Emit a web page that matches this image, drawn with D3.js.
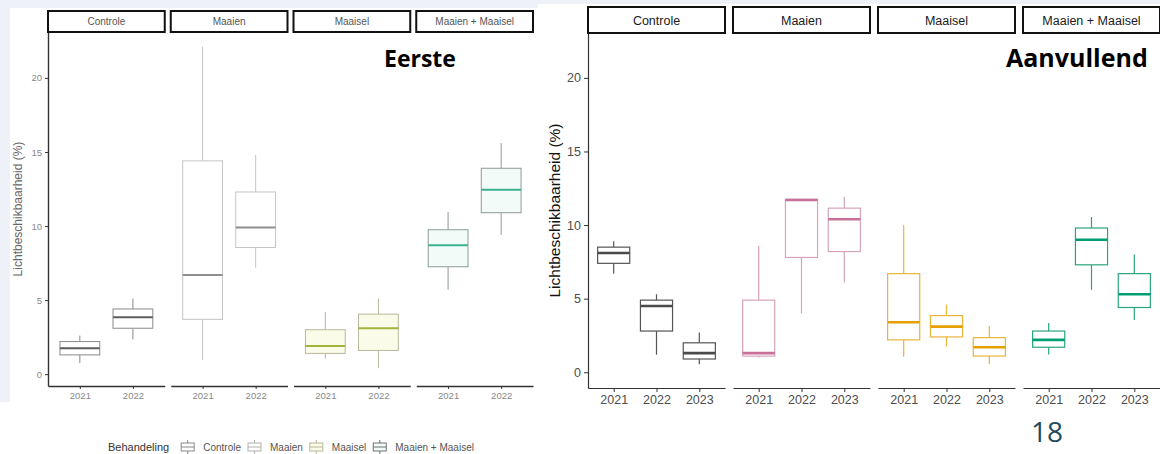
<!DOCTYPE html>
<html><head><meta charset="utf-8">
<script src="https://cdn.jsdelivr.net/npm/d3@7"></script>
<style>html,body{margin:0;padding:0;background:#eef2f8;}svg{display:block;}</style>
</head><body><svg id="c" width="1160" height="454"></svg>
<script>
// ---------- DATA ----------
const treatments = ["Controle", "Maaien", "Maaisel", "Maaien + Maaisel"];
const yearsFirst = ["2021", "2022"];
const yearsExtra = ["2021", "2022", "2023"];
const yTicks = [0, 5, 10, 15, 20];
const legendTitle = "Behandeling";
const labelFirst = "Eerste";
const labelExtra = "Aanvullend";
const pageNumber = "18";
const yTitle = "Lichtbeschikbaarheid (%)";

// "Eerste" chart: per treatment, per year [whisker low, Q1, median, Q3, whisker high]
const firstControle = [[0.75, 1.3, 1.75, 2.2, 2.6], [2.35, 3.1, 3.85, 4.4, 5.1]];
const firstMaaien = [[0.95, 3.7, 6.7, 14.4, 22.1], [7.2, 8.55, 9.9, 12.3, 14.8]];
const firstMaaisel = [[1.05, 1.4, 1.9, 3.0, 4.2], [0.4, 1.6, 3.1, 4.05, 5.1]];
const firstBoth = [[5.7, 7.25, 8.7, 9.75, 10.95], [9.4, 10.9, 12.45, 13.9, 15.6]];

// "Aanvullend" chart
const extraControle = [[6.7, 7.4, 8.1, 8.5, 8.9], [1.2, 2.8, 4.5, 4.9, 5.3], [0.55, 0.9, 1.3, 2.0, 2.7]];
const extraMaaien = [[1.0, 1.1, 1.3, 4.9, 8.6], [4.0, 7.8, 11.7, 11.75, 11.75], [6.1, 8.2, 10.4, 11.15, 11.9]];
const extraMaaisel = [[1.05, 2.2, 3.4, 6.7, 10.0], [1.75, 2.4, 3.1, 3.85, 4.6], [0.55, 1.1, 1.7, 2.35, 3.15]];
const extraBoth = [[1.2, 1.7, 2.2, 2.8, 3.35], [5.6, 7.3, 9.0, 9.8, 10.55], [3.55, 4.4, 5.3, 6.7, 8.0]];

// ---------- DRAW ----------
const svg = d3.select("#c");
const FONT = "'Liberation Sans', Arial, sans-serif";

// white cards
svg.append("rect").attr("x", 10).attr("y", 8).attr("width", 528).attr("height", 394).attr("fill", "#fff");
svg.append("rect").attr("x", 0).attr("y", 402).attr("width", 538).attr("height", 52).attr("fill", "#fff");
svg.append("rect").attr("x", 538).attr("y", 4).attr("width", 622).attr("height", 450).attr("fill", "#fff");

function drawChart(cfg) {
  const g = svg.append("g");
  const panels = d3.scaleBand().domain(treatments).range([cfg.x0, cfg.x1]).paddingInner(cfg.gap / ((cfg.x1 - cfg.x0 + cfg.gap) / treatments.length)).paddingOuter(0);
  const y = d3.scaleLinear().domain(cfg.yDomain).range([cfg.yBottom, cfg.yTop]);

  // y axis
  const ya = g.append("g").attr("transform", `translate(${cfg.x0},0)`)
    .call(d3.axisLeft(y).tickValues(yTicks).tickSize(cfg.tick).tickSizeOuter(0).tickPadding(cfg.tickPad));
  ya.select(".domain").attr("stroke", cfg.axisCol).attr("stroke-width", cfg.axisW);
  ya.selectAll(".tick line").attr("stroke", cfg.axisCol);
  ya.selectAll(".tick text").attr("fill", cfg.tickCol).style("font-family", FONT).style("font-size", cfg.tickFs + "px");

  // y title
  g.append("text").attr("transform", `translate(${cfg.yTitleX},${(cfg.yTop + cfg.yBottom) / 2}) rotate(-90)`)
    .attr("text-anchor", "middle").attr("fill", cfg.titleCol)
    .style("font-family", FONT).style("font-size", cfg.titleFs + "px").text(yTitle);

  treatments.forEach((t, ti) => {
    const px = panels(t), pw = panels.bandwidth();
    const xs = d3.scalePoint().domain(cfg.years).range([px, px + pw]).padding(0.6);
    const boxW = xs.step() * 0.75;
    // strip
    g.append("rect").attr("x", px).attr("y", cfg.stripTop).attr("width", pw).attr("height", cfg.stripH)
      .attr("fill", "#fff").attr("stroke", "#111").attr("stroke-width", cfg.stripW);
    g.append("text").attr("x", px + pw / 2).attr("y", cfg.stripTop + cfg.stripH / 2).attr("dy", "0.36em")
      .attr("text-anchor", "middle").attr("fill", cfg.stripCol)
      .style("font-family", FONT).style("font-size", cfg.stripFs + "px").text(t);
    // x axis
    const xa = g.append("g").attr("transform", `translate(0,${cfg.yBottom})`)
      .call(d3.axisBottom(xs).tickSize(cfg.tick).tickSizeOuter(0).tickPadding(cfg.tickPad));
    xa.select(".domain").attr("stroke", cfg.axisCol).attr("stroke-width", cfg.axisW);
    xa.selectAll(".tick line").attr("stroke", cfg.axisCol);
    xa.selectAll(".tick text").attr("fill", cfg.tickCol).style("font-family", FONT).style("font-size", cfg.tickFs + "px");
    // boxes
    const st = cfg.data[ti];
    const col = cfg.colors[ti];
    cfg.years.forEach((yr, yi) => {
      const [lo, q1, md, q3, hi] = st[yi];
      const cx = xs(yr);
      g.append("line").attr("x1", cx).attr("x2", cx).attr("y1", y(lo)).attr("y2", y(q1)).attr("stroke", col.line).attr("stroke-width", cfg.lineW);
      g.append("line").attr("x1", cx).attr("x2", cx).attr("y1", y(q3)).attr("y2", y(hi)).attr("stroke", col.line).attr("stroke-width", cfg.lineW);
      g.append("rect").attr("x", cx - boxW / 2).attr("width", boxW).attr("y", y(q3)).attr("height", y(q1) - y(q3))
        .attr("fill", col.fill).attr("stroke", col.line).attr("stroke-width", cfg.lineW);
      g.append("line").attr("x1", cx - boxW / 2).attr("x2", cx + boxW / 2).attr("y1", y(md)).attr("y2", y(md))
        .attr("stroke", col.med).attr("stroke-width", cfg.medW);
    });
  });
}

drawChart({
  x0: 48, x1: 533, gap: 6, years: yearsFirst,
  yDomain: [-0.8, 23.1], yTop: 32, yBottom: 386,
  stripTop: 11, stripH: 21, stripW: 2, stripFs: 10, stripCol: "#555",
  tick: 3, tickPad: 3, tickFs: 9.5, tickCol: "#888", axisCol: "#333", axisW: 1.4,
  titleFs: 12, titleCol: "#666", yTitleX: 22,
  lineW: 1, medW: 2,
  data: [firstControle, firstMaaien, firstMaaisel, firstBoth],
  colors: [
    { line: "#8a8a8a", med: "#5e5e5e", fill: "#ffffff" },
    { line: "#c4c4c4", med: "#8e8e8e", fill: "#ffffff" },
    { line: "#b8b89a", med: "#a3b43a", fill: "#fbfbe9" },
    { line: "#8d9a95", med: "#3bb28f", fill: "#f3fbf8" }
  ]
});

drawChart({
  x0: 588, x1: 1160, gap: 8, years: yearsExtra,
  yDomain: [-1.07, 23.05], yTop: 33, yBottom: 388,
  stripTop: 7, stripH: 26, stripW: 2, stripFs: 12.5, stripCol: "#1a1a1a",
  tick: 4, tickPad: 3, tickFs: 12.5, tickCol: "#4d4d4d", axisCol: "#333", axisW: 1.2,
  titleFs: 15.5, titleCol: "#111", yTitleX: 560,
  lineW: 1.2, medW: 2.6,
  data: [extraControle, extraMaaien, extraMaaisel, extraBoth],
  colors: [
    { line: "#555555", med: "#4a4a4a", fill: "#ffffff" },
    { line: "#d6a3bb", med: "#c8709a", fill: "#ffffff" },
    { line: "#eab43a", med: "#e69f00", fill: "#ffffff" },
    { line: "#2aa47e", med: "#009e73", fill: "#ffffff" }
  ]
});

// legend (left chart)
const lg = svg.append("g");
let lx = 108; const ly = 447;
const lt = lg.append("text").attr("x", lx).attr("y", ly).attr("dy", "0.35em").attr("fill", "#333")
  .style("font-family", FONT).style("font-size", "11px").text(legendTitle);
lx += lt.node().getComputedTextLength() + 12;
const legendCols = [
  { line: "#8a8a8a", fill: "#ffffff" }, { line: "#b0b0b0", fill: "#ffffff" },
  { line: "#b8b89a", fill: "#fbfbe9" }, { line: "#707070", fill: "#f3fbf8" }
];
treatments.forEach((t, i) => {
  const c = legendCols[i];
  lg.append("line").attr("x1", lx + 6.5).attr("x2", lx + 6.5).attr("y1", ly - 7).attr("y2", ly + 7).attr("stroke", c.line);
  lg.append("rect").attr("x", lx).attr("y", ly - 4).attr("width", 13).attr("height", 8).attr("fill", c.fill).attr("stroke", c.line);
  lg.append("line").attr("x1", lx).attr("x2", lx + 13).attr("y1", ly).attr("y2", ly).attr("stroke", c.line);
  lx += 22;
  const tt = lg.append("text").attr("x", lx).attr("y", ly).attr("dy", "0.35em").attr("fill", "#555")
    .style("font-family", FONT).style("font-size", "10px").text(t);
  lx += tt.node().getComputedTextLength() + 7;
});

// overlay labels
svg.append("text").attr("x", 384).attr("y", 67).attr("fill", "#000")
  .style("font-family", "'Open Sans', sans-serif").style("font-weight", "700").style("font-size", "23px").text(labelFirst);
svg.append("text").attr("x", 1006).attr("y", 67).attr("fill", "#000")
  .style("font-family", "'Open Sans', sans-serif").style("font-weight", "700").style("font-size", "25px").text(labelExtra);
svg.append("text").attr("x", 1047).attr("y", 442).attr("text-anchor", "middle").attr("fill", "#1d4a5c")
  .style("font-family", "'Open Sans', sans-serif").style("font-size", "28px").text(pageNumber);
</script></body></html>
